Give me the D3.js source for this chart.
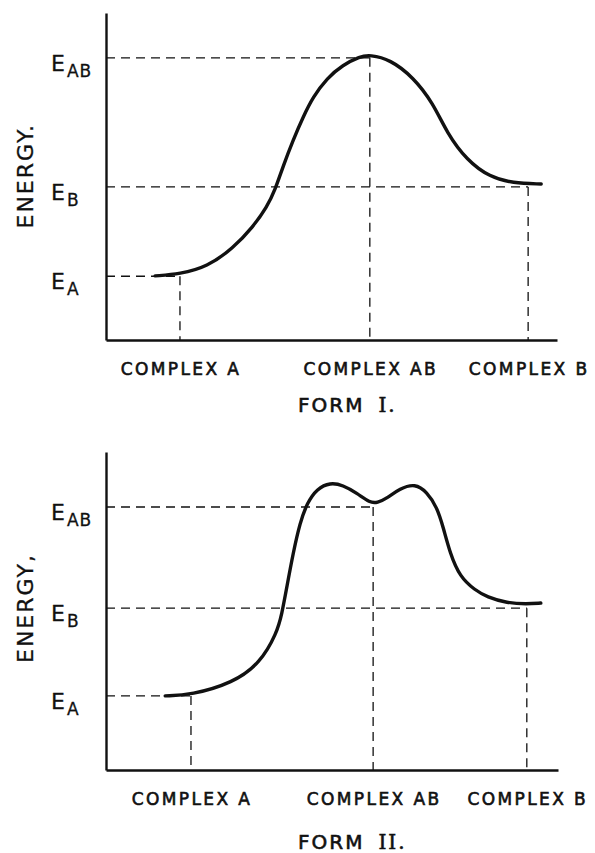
<!DOCTYPE html>
<html>
<head>
<meta charset="utf-8">
<script src="https://cdn.jsdelivr.net/npm/d3@7"></script>
<style>
  html, body { margin: 0; padding: 0; background: #fff; }
  svg { display: block; }
  text { font-family: "DejaVu Sans", sans-serif; fill: #111; }
</style>
</head>
<body>
<svg id="chart" width="595" height="853"></svg>
<script>
// ---- data ----
const categories = ["COMPLEX A", "COMPLEX AB", "COMPLEX B"];
const levelSubscripts = ["A", "B", "AB"];          // E_A, E_B, E_AB
const levelCategory = [0, 2, 1];                   // which complex each level belongs to
const yAxisLabels = ["ENERGY.", "ENERGY,"];
const formTitles = ["FORM", "FORM"];
const formNumerals = ["I.", "II."];

// Form I (energy 0-100, reaction coordinate 0-100)
const form1Levels = [19.5, 46.8, 86.3];
const form1Positions = [16.4, 58.5, 93.6];
const form1CurveX = [10.9, 16.4, 22.4, 28.2, 32.6, 35.7, 37.5, 39.2, 41.5, 43.7, 45.9, 49.0, 52.5, 56.3, 58.5, 63.0, 68.1, 72.5, 75.6, 80.0, 85.1, 90.2, 96.5];
const form1CurveY = [19.6, 20.2, 22.3, 28.1, 34.6, 40.7, 45.9, 52.9, 61.2, 68.2, 74.3, 80.1, 84.1, 86.7, 87.2, 85.8, 80.4, 72.5, 63.3, 55.0, 49.8, 48.0, 47.7];

// Form II
const form2Levels = [23.3, 50.9, 82.7];
const form2Positions = [18.8, 59.1, 93.1];
const form2CurveX = [13.1, 18.8, 28.1, 34.1, 37.8, 38.9, 40.0, 41.4, 42.9, 44.5, 46.7, 49.6, 52.4, 55.5, 58.4, 60.0, 62.2, 65.0, 68.4, 71.0, 73.2, 74.6, 76.1, 78.3, 81.6, 84.3, 88.7, 93.1, 96.2];
const form2CurveY = [23.3, 23.6, 27.4, 33.6, 43.1, 49.0, 57.5, 68.2, 77.7, 84.0, 88.5, 90.4, 89.6, 87.1, 84.0, 84.0, 85.5, 88.5, 90.1, 87.4, 82.7, 76.4, 68.2, 60.7, 56.6, 54.4, 52.5, 52.2, 52.5];

// ---- layout ----
const panels = [
  { levels: form1Levels, positions: form1Positions, cx: form1CurveX, cy: form1CurveY,
    xr: [106, 557], yr: [340, 13], titleY: 412, label: yAxisLabels[0], title: formTitles[0], numeral: formNumerals[0] },
  { levels: form2Levels, positions: form2Positions, cx: form2CurveX, cy: form2CurveY,
    xr: [106, 558], yr: [770, 452], titleY: 849, label: yAxisLabels[1], title: formTitles[1], numeral: formNumerals[1] }
];

const svg = d3.select("#chart");

panels.forEach(p => {
  const x = d3.scaleLinear().domain([0, 100]).range(p.xr);
  const y = d3.scaleLinear().domain([0, 100]).range(p.yr);
  const g = svg.append("g");

  // dashed guide lines
  const dash = "9,6";
  p.levels.forEach((lv, i) => {
    const cat = levelCategory[i];
    g.append("line")
      .attr("x1", x(0)).attr("x2", x(p.positions[cat]))
      .attr("y1", y(lv)).attr("y2", y(lv))
      .attr("stroke", "#111").attr("stroke-width", 1.3).attr("stroke-dasharray", dash);
    g.append("line")
      .attr("x1", x(p.positions[cat])).attr("x2", x(p.positions[cat]))
      .attr("y1", y(lv)).attr("y2", y(0))
      .attr("stroke", "#111").attr("stroke-width", 1.3).attr("stroke-dasharray", dash);
  });

  // axes
  g.append("g").attr("transform", `translate(${x(0)},0)`)
    .call(d3.axisLeft(y).tickValues([]).tickSizeOuter(0));
  g.append("g").attr("transform", `translate(0,${y(0)})`)
    .call(d3.axisBottom(x).tickValues([]).tickSizeOuter(0));
  g.selectAll(".domain").attr("stroke", "#111").attr("stroke-width", 2.4);

  // energy curve
  const pts = p.cx.map((v, i) => [v, p.cy[i]]);
  g.append("path").datum(pts)
    .attr("fill", "none").attr("stroke", "#111").attr("stroke-width", 3.4)
    .attr("stroke-linecap", "round").attr("stroke-linejoin", "round")
    .attr("d", d3.line().x(d => x(d[0])).y(d => y(d[1])).curve(d3.curveBasis));

  // level labels
  p.levels.forEach((lv, i) => {
    const t = g.append("text").attr("x", 51).attr("y", y(lv) + 13)
      .style("font-size", "22px").attr("stroke", "#111").attr("stroke-width", 0.3);
    t.append("tspan").text("E");
    t.append("tspan").attr("dx", 2).attr("dy", 6)
      .style("font-size", "17px").style("letter-spacing", "1px").text(levelSubscripts[i]);
  });

  // category labels
  categories.forEach((c, i) => {
    g.append("text").attr("x", x(p.positions[i]) + 1).attr("y", y(0) + 35)
      .attr("text-anchor", "middle")
      .attr("stroke", "#111").attr("stroke-width", 0.6)
      .style("font-size", "17px").style("letter-spacing", "2.4px")
      .text(c);
  });

  // y-axis title
  g.append("text")
    .attr("transform", `translate(33,${(y(0) + y(100)) / 2 + 52}) rotate(-90)`)
    .attr("text-anchor", "start")
    .attr("stroke", "#111").attr("stroke-width", 0.3)
    .style("font-size", "22px").style("letter-spacing", "2px")
    .text(p.label);

  // form title
  const tt = g.append("text").attr("x", 298).attr("y", p.titleY)
    .attr("stroke", "#111").attr("stroke-width", 0.6)
    .style("font-size", "20px").style("letter-spacing", "2px");
  tt.append("tspan").text(p.title);
  tt.append("tspan").attr("dx", 14).style("font-family", "'DejaVu Serif', serif").text(p.numeral);
});
</script>
</body>
</html>
